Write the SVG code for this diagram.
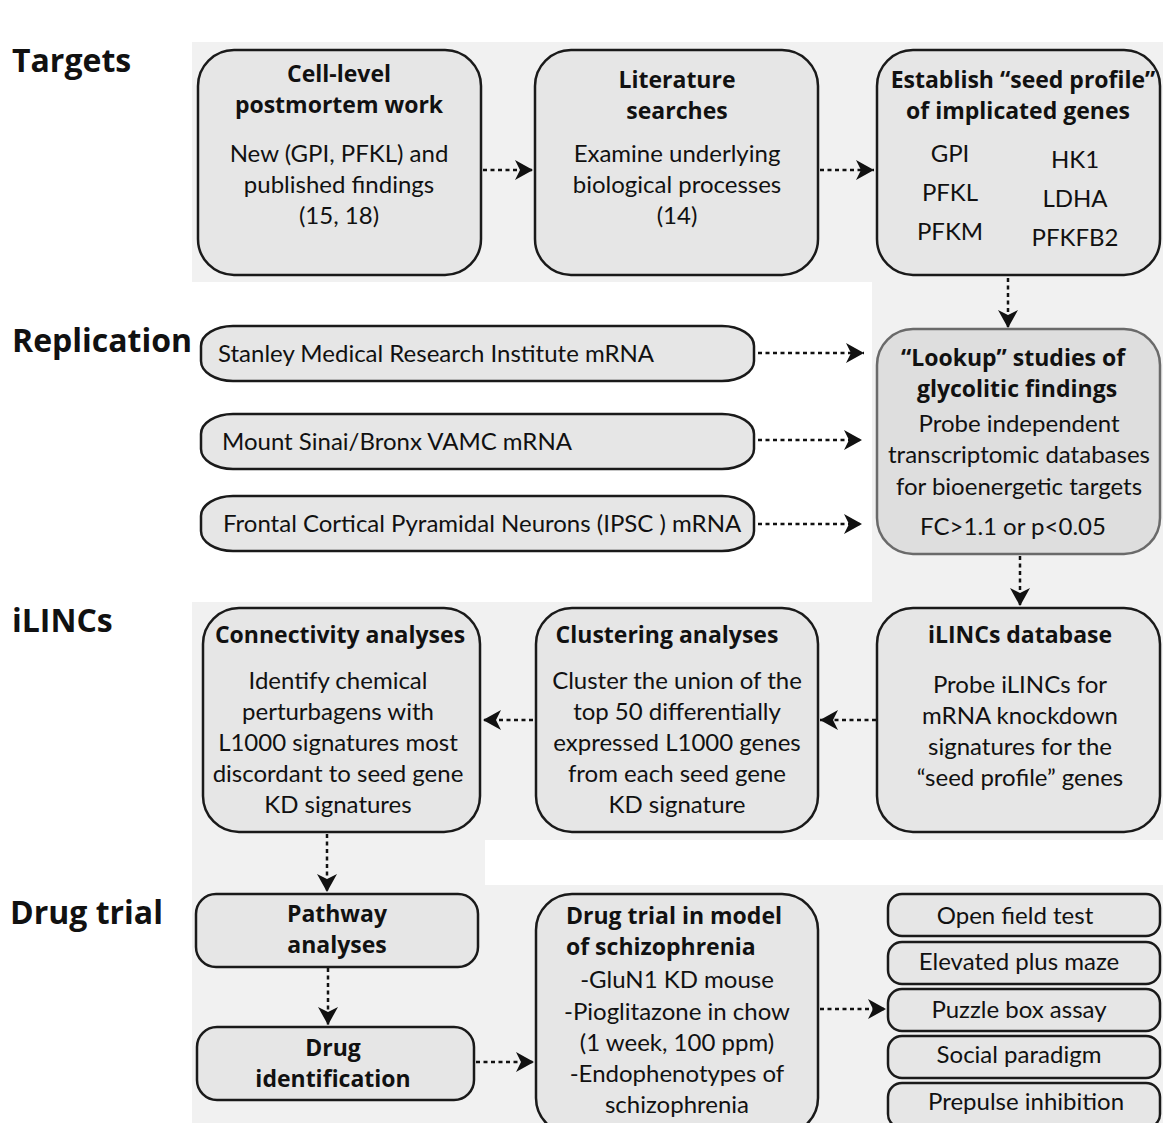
<svg xmlns="http://www.w3.org/2000/svg" width="1163" height="1123" viewBox="0 0 1163 1123">
<defs>
<style>
.panel{fill:#f1f1f1;stroke:none}
.box{fill:#e6e6e6;stroke:#1a1a1a;stroke-width:2.5}
.lookup{fill:#dedede;stroke:#6a6a6a;stroke-width:2.5}
.sec{font-family:"Open Sans",Lato,"Liberation Sans",sans-serif;font-weight:bold;font-size:32px;fill:#111}
.t{font-family:"Open Sans",Lato,"Liberation Sans",sans-serif;font-weight:bold;font-size:23px;fill:#111;text-anchor:middle}
.b{font-family:Lato,"Liberation Sans",sans-serif;font-size:24px;fill:#111;text-anchor:middle}
.l{text-anchor:start}
.conn{fill:none;stroke:#111;stroke-width:2.5;stroke-dasharray:4 3.5}
</style>
<marker id="ah" markerUnits="userSpaceOnUse" markerWidth="20" markerHeight="22" refX="18" refY="11" orient="auto">
<path d="M0,1 L18,11 L0,21 L5,11 z" fill="#111"/>
</marker>
</defs>

<g id="panels">
<rect class="panel" x="192" y="42" width="971" height="240"/>
<rect class="panel" x="872" y="282" width="291" height="320"/>
<rect class="panel" x="192" y="602" width="971" height="238"/>
<rect class="panel" x="192" y="840" width="293" height="45"/>
<rect class="panel" x="192" y="885" width="971" height="238"/>
</g>

<g id="section-labels">
<text class="sec" x="12" y="72">Targets</text>
<text class="sec" x="12" y="352">Replication</text>
<text class="sec" x="12" y="632">iLINCs</text>
<text class="sec" x="10" y="924">Drug trial</text>
</g>

<g id="cell-level">
<rect class="box" x="198" y="50" width="283" height="225" rx="36"/>
<text class="t" x="339" y="82">Cell-level</text>
<text class="t" x="339" y="113">postmortem work</text>
<text class="b" x="339" y="162">New (GPI, PFKL) and</text>
<text class="b" x="339" y="193">published findings</text>
<text class="b" x="339" y="224">(15, 18)</text>
</g>

<g id="literature">
<rect class="box" x="535" y="50" width="283" height="225" rx="36"/>
<text class="t" x="677" y="88">Literature</text>
<text class="t" x="677" y="119">searches</text>
<text class="b" x="677" y="162">Examine underlying</text>
<text class="b" x="677" y="193">biological processes</text>
<text class="b" x="677" y="224">(14)</text>
</g>

<g id="seed-profile">
<rect class="box" x="877" y="50" width="283" height="225" rx="36"/>
<text class="t" x="1023" y="88">Establish “seed profile”</text>
<text class="t" x="1018" y="119">of implicated genes</text>
<text class="b" x="950" y="162">GPI</text>
<text class="b" x="950" y="201">PFKL</text>
<text class="b" x="950" y="240">PFKM</text>
<text class="b" x="1075" y="168">HK1</text>
<text class="b" x="1075" y="207">LDHA</text>
<text class="b" x="1075" y="246">PFKFB2</text>
</g>

<g id="stanley">
<rect class="box" x="201" y="326" width="553" height="55" rx="32" ry="20"/>
<text class="b l" x="218" y="362">Stanley Medical Research Institute mRNA</text>
</g>

<g id="mount-sinai">
<rect class="box" x="201" y="414" width="553" height="55" rx="32" ry="20"/>
<text class="b l" x="222" y="450">Mount Sinai/Bronx VAMC mRNA</text>
</g>

<g id="frontal-cortical">
<rect class="box" x="201" y="496" width="553" height="55" rx="32" ry="20"/>
<text class="b l" x="223" y="532">Frontal Cortical Pyramidal Neurons (IPSC ) mRNA</text>
</g>

<g id="lookup">
<rect class="lookup" x="877" y="329" width="283" height="225" rx="36"/>
<text class="t" x="1013" y="366">“Lookup” studies of</text>
<text class="t" x="1017" y="397">glycolitic findings</text>
<text class="b" x="1019" y="432">Probe independent</text>
<text class="b" x="1019" y="463">transcriptomic databases</text>
<text class="b" x="1019" y="495">for bioenergetic targets</text>
<text class="b" x="1013" y="535">FC&gt;1.1 or p&lt;0.05</text>
</g>

<g id="connectivity">
<rect class="box" x="203" y="608" width="277" height="224" rx="36"/>
<text class="t" x="340" y="643">Connectivity analyses</text>
<text class="b" x="338" y="689">Identify chemical</text>
<text class="b" x="338" y="720">perturbagens with</text>
<text class="b" x="338" y="751">L1000 signatures most</text>
<text class="b" x="338" y="782">discordant to seed gene</text>
<text class="b" x="338" y="813">KD signatures</text>
</g>

<g id="clustering">
<rect class="box" x="536" y="608" width="282" height="224" rx="36"/>
<text class="t" x="667" y="643">Clustering analyses</text>
<text class="b" x="677" y="689">Cluster the union of the</text>
<text class="b" x="677" y="720">top 50 differentially</text>
<text class="b" x="677" y="751">expressed L1000 genes</text>
<text class="b" x="677" y="782">from each seed gene</text>
<text class="b" x="677" y="813">KD signature</text>
</g>

<g id="ilincs-db">
<rect class="box" x="877" y="608" width="283" height="224" rx="36"/>
<text class="t" x="1020" y="643">iLINCs database</text>
<text class="b" x="1020" y="693">Probe iLINCs for</text>
<text class="b" x="1020" y="724">mRNA knockdown</text>
<text class="b" x="1020" y="755">signatures for the</text>
<text class="b" x="1020" y="786">“seed profile” genes</text>
</g>

<g id="pathway">
<rect class="box" x="196" y="894" width="282" height="73" rx="20"/>
<text class="t" x="337" y="922">Pathway</text>
<text class="t" x="337" y="953">analyses</text>
</g>

<g id="drug-identification">
<rect class="box" x="197" y="1027" width="277" height="73" rx="20"/>
<text class="t" x="333" y="1056">Drug</text>
<text class="t" x="333" y="1087">identification</text>
</g>

<g id="drug-trial">
<rect class="box" x="536" y="894" width="282" height="240" rx="36"/>
<text class="t l" x="566" y="924">Drug trial in model</text>
<text class="t l" x="566" y="955">of schizophrenia</text>
<text class="b" x="677" y="988">-GluN1 KD mouse</text>
<text class="b" x="677" y="1020">-Pioglitazone in chow</text>
<text class="b" x="677" y="1051">(1 week, 100 ppm)</text>
<text class="b" x="677" y="1082">-Endophenotypes of</text>
<text class="b" x="677" y="1113">schizophrenia</text>
</g>

<g id="open-field">
<rect class="box" x="888" y="894" width="272" height="42" rx="14"/>
<text class="b" x="1015" y="924">Open field test</text>
</g>
<g id="elevated-plus">
<rect class="box" x="888" y="942" width="272" height="42" rx="14"/>
<text class="b" x="1019" y="970">Elevated plus maze</text>
</g>
<g id="puzzle-box">
<rect class="box" x="888" y="989" width="272" height="42" rx="14"/>
<text class="b" x="1019" y="1018">Puzzle box assay</text>
</g>
<g id="social">
<rect class="box" x="888" y="1036" width="272" height="42" rx="14"/>
<text class="b" x="1019" y="1063">Social paradigm</text>
</g>
<g id="prepulse">
<rect class="box" x="888" y="1083" width="272" height="45" rx="14"/>
<text class="b" x="1026" y="1110">Prepulse inhibition</text>
</g>

<g id="connectors">
<path class="conn" d="M483,170 H533" marker-end="url(#ah)"/>
<path class="conn" d="M820,170 H874" marker-end="url(#ah)"/>
<path class="conn" d="M1008,278 V328" marker-end="url(#ah)"/>
<path class="conn" d="M758,353 H864" marker-end="url(#ah)"/>
<path class="conn" d="M758,440 H862" marker-end="url(#ah)"/>
<path class="conn" d="M758,524 H862" marker-end="url(#ah)"/>
<path class="conn" d="M1020,556 V606" marker-end="url(#ah)"/>
<path class="conn" d="M876,720 H820" marker-end="url(#ah)"/>
<path class="conn" d="M533,720 H483" marker-end="url(#ah)"/>
<path class="conn" d="M327,834 V892" marker-end="url(#ah)"/>
<path class="conn" d="M328,968 V1025" marker-end="url(#ah)"/>
<path class="conn" d="M476,1062 H534" marker-end="url(#ah)"/>
<path class="conn" d="M820,1009 H886" marker-end="url(#ah)"/>
</g>
</svg>
